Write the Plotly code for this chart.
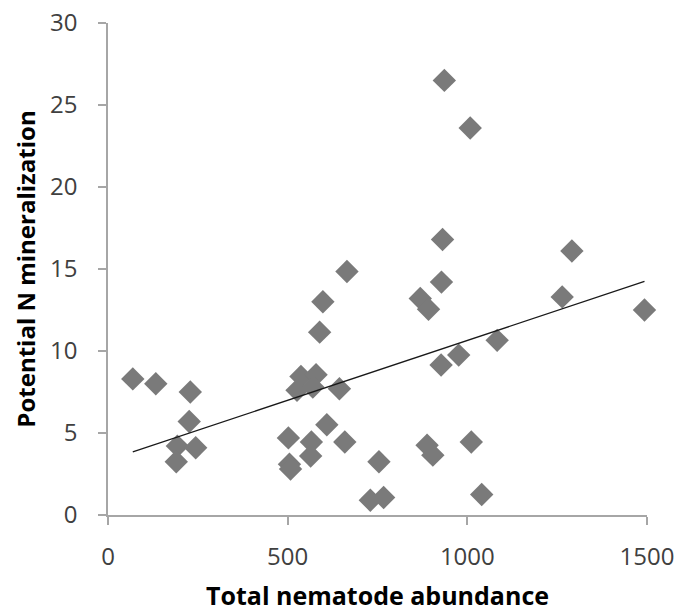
import numpy as np
import plotly.graph_objects as go

# Total nematode abundance (x) and Potential N mineralization (y)
abundance = [69, 133, 229, 226, 193, 244, 190, 502, 505, 508, 566, 564, 609, 659,
             754, 730, 767, 665, 598, 589, 537, 579, 526, 570, 644, 936, 1008, 931,
             1291, 928, 869, 892, 1264, 1493, 1083, 976, 927, 888, 904, 1011, 1040]
mineralization = [8.3, 8.0, 7.5, 5.7, 4.2, 4.1, 3.25, 4.7, 3.1, 2.8, 4.45, 3.6, 5.5, 4.45,
                  3.25, 0.9, 1.07, 14.85, 13.0, 11.15, 8.45, 8.55, 7.6, 7.8, 7.7, 26.5, 23.6, 16.8,
                  16.1, 14.2, 13.2, 12.55, 13.3, 12.5, 10.65, 9.75, 9.15, 4.25, 3.65, 4.45, 1.25]

x_ticks = [0, 500, 1000, 1500]
y_ticks = [0, 5, 10, 15, 20, 25, 30]

xa = np.array(abundance, dtype=float)
ya = np.array(mineralization, dtype=float)
slope, intercept = np.polyfit(xa, ya, 1)
trend_x = [xa.min(), xa.max()]
trend_y = [slope * v + intercept for v in trend_x]

fig = go.Figure()
fig.add_trace(go.Scatter(
    x=abundance, y=mineralization, mode="markers", cliponaxis=False,
    marker=dict(symbol="diamond", size=18, color="#7a7a7a", line=dict(width=0)),
    showlegend=False, hoverinfo="x+y"))
fig.add_trace(go.Scatter(
    x=trend_x, y=trend_y, mode="lines",
    line=dict(color="#1a1a1a", width=1.3), showlegend=False, hoverinfo="skip"))

axis_common = dict(
    showgrid=False, zeroline=False, showline=True, linecolor="#a6a6a6", linewidth=1.5,
    ticks="outside", ticklen=8, tickwidth=1.5, tickcolor="#a6a6a6", automargin=False,
    tickfont=dict(family="Open Sans", size=24, color="#404040"),
)

fig.update_layout(
    width=680, height=614,
    margin=dict(l=108, r=33, t=23, b=99),
    paper_bgcolor="white", plot_bgcolor="white",
    xaxis=dict(range=[0, 1500], tickvals=x_ticks, ticklabelstandoff=11,
               title=dict(text="<b>Total nematode abundance</b>", standoff=17,
                          font=dict(family="Open Sans", size=25, color="black")),
               **axis_common),
    yaxis=dict(range=[0, 30], tickvals=y_ticks, ticklabelstandoff=16,
               title=dict(text="<b>Potential N mineralization</b>", standoff=8,
                          font=dict(family="Open Sans", size=24, color="black")),
               **axis_common),
)

fig.write_html("out.html")
